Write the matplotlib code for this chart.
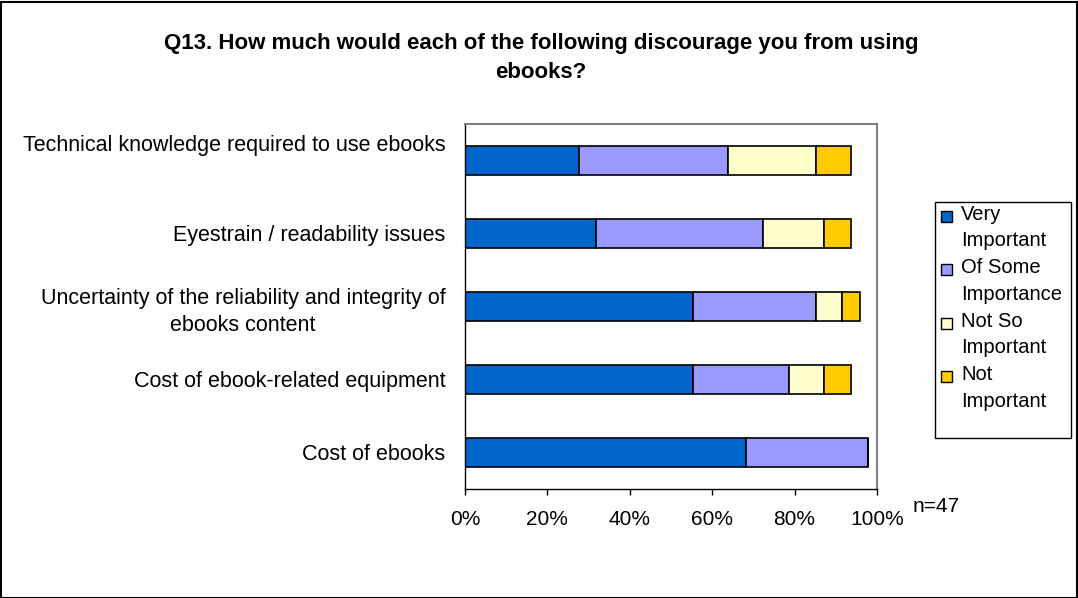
import matplotlib
matplotlib.use('Agg')
import matplotlib.pyplot as plt
from matplotlib.patches import Rectangle
from matplotlib.transforms import ScaledTranslation
import numpy as np

plt.rcParams['font.family'] = ['Liberation Sans', 'DejaVu Sans']

# data: % of respondents (n=47)
categories = ['Technical knowledge required to use ebooks',
              'Eyestrain / readability issues',
              'Uncertainty of the reliability and integrity of\nebooks content',
              'Cost of ebook-related equipment',
              'Cost of ebooks']
very_important = [27.7, 31.9, 55.3, 55.3, 68.1]
of_some_importance = [36.2, 40.4, 29.8, 23.4, 29.8]
not_so_important = [21.3, 14.9, 6.4, 8.5, 0.0]
not_important = [8.5, 6.4, 4.3, 6.4, 0.0]
series_names = ['Very\nImportant', 'Of Some\nImportance', 'Not So\nImportant', 'Not\nImportant']
colors = ['#0066CC', '#9999FF', '#FFFFCC', '#FFCC00']
xticks = [0, 20, 40, 60, 80, 100]

W, H = 1078, 598
fig = plt.figure(figsize=(W / 100, H / 100), dpi=100)
ax = fig.add_axes([465 / W, 1 - 489 / H, (877 - 465) / W, (489 - 124) / H])

y = np.arange(len(categories))
left = np.zeros(len(categories))
for vals, c in zip([very_important, of_some_importance, not_so_important, not_important], colors):
    vals = np.array(vals)
    ax.barh(y, vals, left=left, height=0.4, color=c, edgecolor='black', linewidth=1.2)
    left += vals

ax.set_ylim(len(categories) - 0.5, -0.5)
ax.set_xlim(0, 100)
ax.set_xticks(xticks)
ax.set_xticklabels(['%d%%' % t for t in xticks], fontsize=15)
ax.tick_params(axis='x', direction='out', length=4, width=1, pad=11)
ax.set_yticks(y)
ax.set_yticklabels(categories, fontsize=15.5, multialignment='center', linespacing=1.35)
ax.tick_params(axis='y', length=0, pad=14)
# first label sits higher in the original
lab = ax.get_yticklabels()[0]
lab.set_transform(lab.get_transform() + ScaledTranslation(0, 18 / 100, fig.dpi_scale_trans))

for s in ['top', 'right']:
    ax.spines[s].set_color('#808080')
    ax.spines[s].set_linewidth(1.5)
for s in ['left', 'bottom']:
    ax.spines[s].set_color('black')
    ax.spines[s].set_linewidth(1)

fig.text(541 / W, 1 - 58 / H, 'Q13. How much would each of the following discourage you from using\nebooks?',
         ha='center', va='center', fontsize=16, fontweight='bold', linespacing=1.45)
fig.text(913 / W, 1 - 507 / H, 'n=47', ha='left', va='center', fontsize=15)

# legend
fig.patches.append(Rectangle((935 / W, 1 - 438 / H), (1071 - 935) / W, (438 - 202) / H,
                             transform=fig.transFigure, facecolor='white', edgecolor='black',
                             linewidth=1, figure=fig))
for i, (name, c) in enumerate(zip(series_names, colors)):
    ty = 216 + i * 53.4
    fig.patches.append(Rectangle((941 / W, 1 - (ty + 6) / H), 11 / W, 11 / H,
                                 transform=fig.transFigure, facecolor=c, edgecolor='black',
                                 linewidth=1, figure=fig))
    fig.text(961 / W, 1 - (ty - 11) / H, name, ha='left', va='top', fontsize=14.5, linespacing=1.5)

# outer border
fig.patches.append(Rectangle((0.5 / W, 0.5 / H), (W - 2) / W, (H - 2) / H, transform=fig.transFigure,
                             facecolor='none', edgecolor='black', linewidth=1.5, figure=fig))

fig.savefig('out.png', dpi=100)
